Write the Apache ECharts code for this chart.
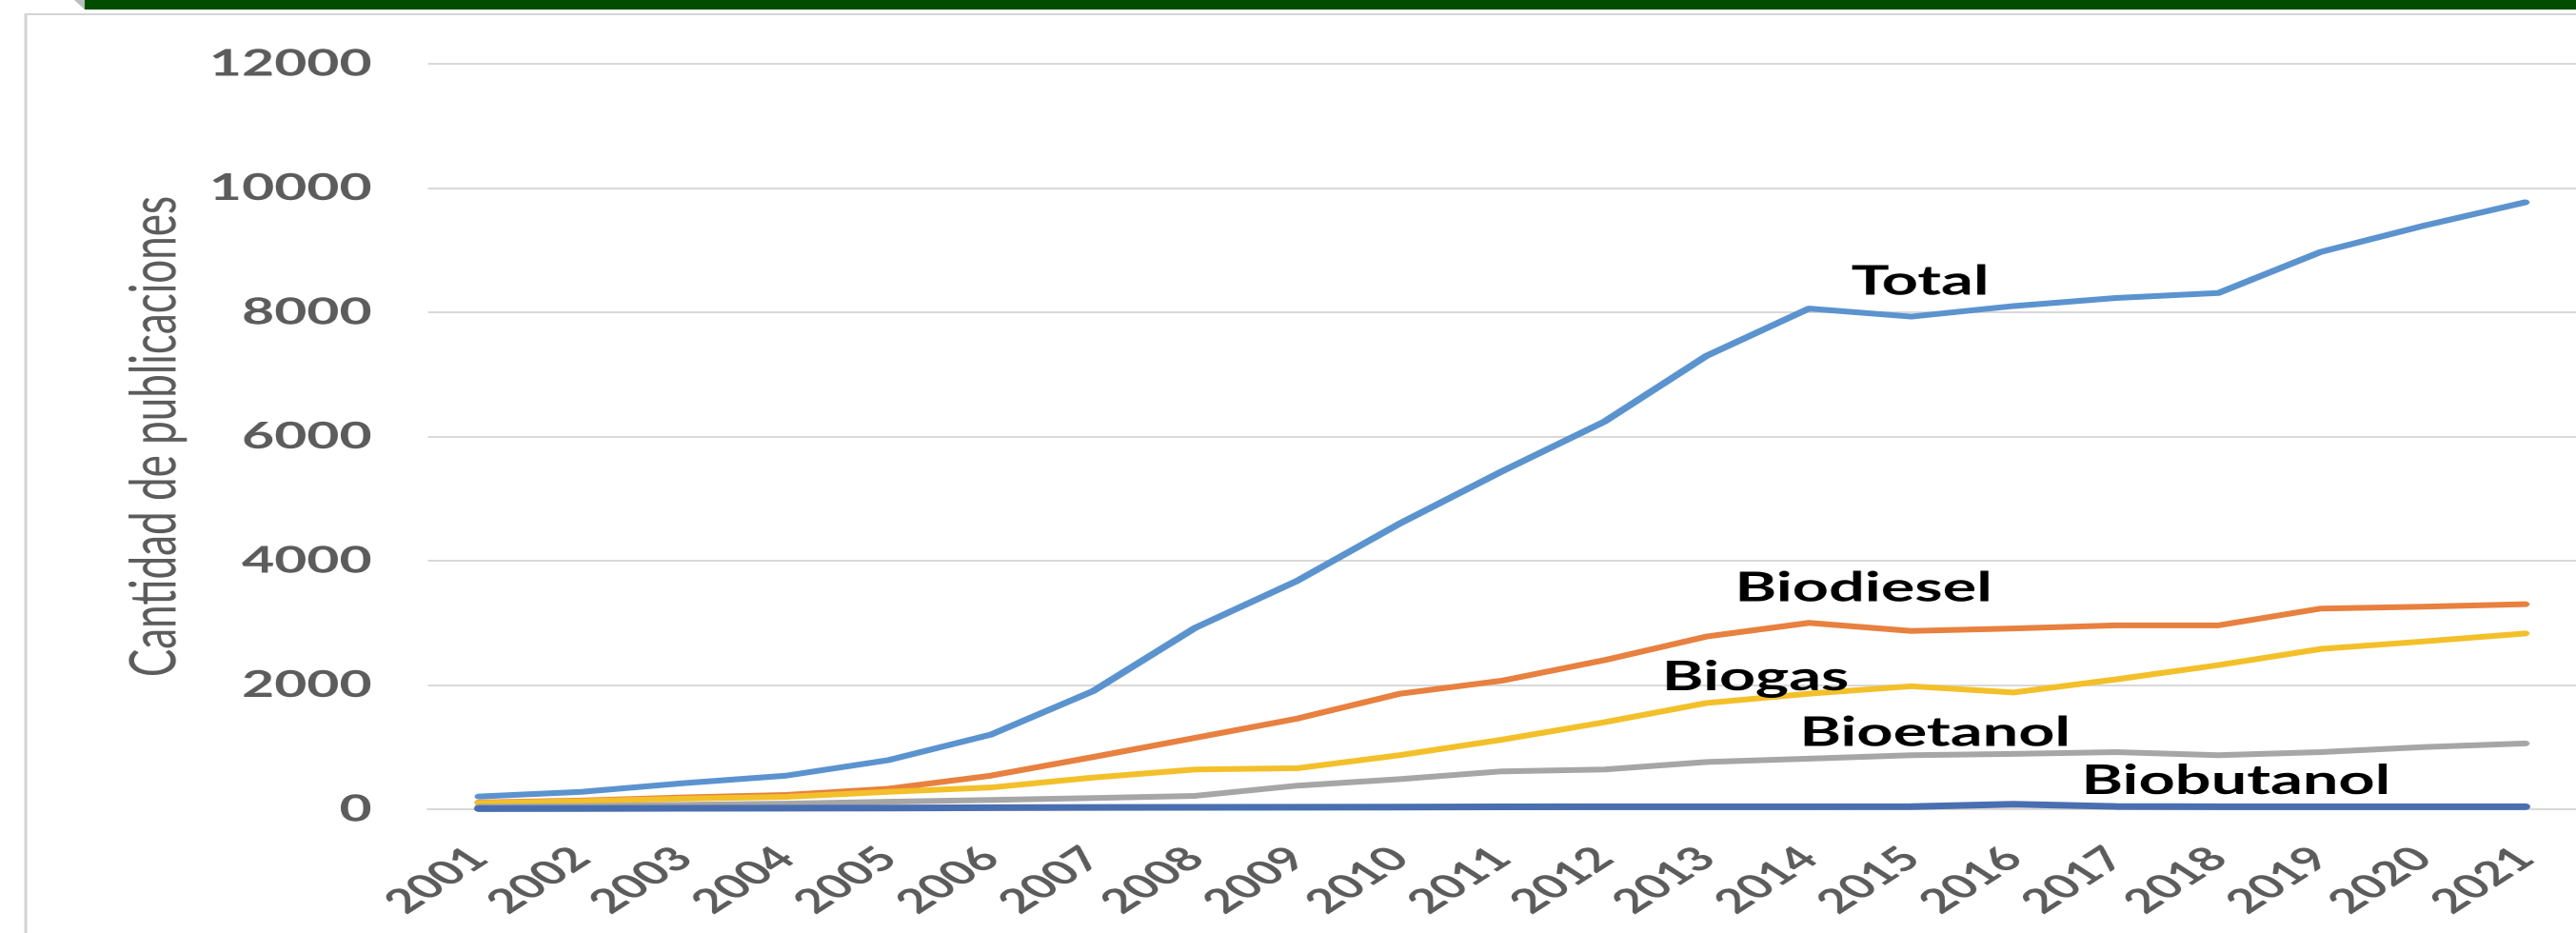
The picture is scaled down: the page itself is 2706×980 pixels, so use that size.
<!DOCTYPE html>
<html>
<head>
<meta charset="utf-8">
<title>Cantidad de publicaciones por año</title>
<script src="https://cdn.jsdelivr.net/npm/echarts@6/dist/echarts.min.js"></script>
<style>
  html, body { margin: 0; padding: 0; background: #ffffff; }
  #frame { width: 2706px; height: 980px; overflow: hidden; position: relative; background: #ffffff; }
  /* The chart is laid out on a narrower canvas and widened horizontally,
     which gives the text and lines their broad, stretched appearance. */
  #chart { position: absolute; left: 0; top: 0; width: 1746px; height: 980px;
           transform: scaleX(1.55); transform-origin: 0 0; }
</style>
</head>
<body>
<div id="frame"><div id="chart"></div></div>
<script>
// ---- data -------------------------------------------------------------
const years = ['2001','2002','2003','2004','2005','2006','2007','2008','2009','2010','2011',
               '2012','2013','2014','2015','2016','2017','2018','2019','2020','2021'];

const total      = [205, 280, 420, 540, 790, 1200, 1900, 2920, 3680, 4600, 5440,
                    6240, 7300, 8060, 7930, 8100, 8230, 8310, 8970, 9390, 9770];
const biodiesel  = [110, 140, 190, 230, 330, 540, 840, 1150, 1460, 1860, 2070,
                    2400, 2780, 3000, 2870, 2910, 2960, 2960, 3230, 3260, 3300];
const biogas     = [100, 130, 170, 200, 280, 350, 510, 640, 660, 870, 1120,
                    1400, 1710, 1860, 1980, 1880, 2090, 2320, 2580, 2700, 2830];
const bioetanol  = [40, 50, 70, 90, 120, 150, 180, 215, 380, 485, 610,
                    640, 760, 815, 870, 890, 920, 870, 920, 1000, 1060];
const biobutanol = [10, 12, 15, 18, 20, 25, 28, 30, 32, 35, 38,
                    40, 40, 40, 42, 80, 45, 40, 40, 40, 40];

const yTicks = [0, 2000, 4000, 6000, 8000, 10000, 12000];
const yAxisTitle = 'Cantidad de publicaciones';

// ---- styling ----------------------------------------------------------
const FONT = 'Lato, "Noto Sans", sans-serif';
const GREY_TEXT = '#5c5c5c';
const GRID_LINE = '#d9d9d9';

// where each series name is written, in axis coordinates, plus a small pixel nudge
const nameTags = {
  'Total':      { at: ['2015', 8500], nudge: [6, 0] },
  'Biodiesel':  { at: ['2014', 3560], nudge: [37, 0] },
  'Biogas':     { at: ['2013', 2130], nudge: [33, 0] },
  'Bioetanol':  { at: ['2015', 1230], nudge: [16, 0] },
  'Biobutanol': { at: ['2018', 460],  nudge: [12, 0] }
};

function lineSeries(name, values, color, width, z) {
  const tag = nameTags[name];
  return {
    name: name,
    type: 'line',
    data: values,
    z: z,
    showSymbol: false,
    symbol: 'none',
    smooth: false,
    lineStyle: { color: color, width: width, cap: 'round', join: 'round' },
    itemStyle: { color: color },
    markPoint: {
      silent: true,
      symbol: 'circle',
      symbolSize: 0,
      itemStyle: { color: 'rgba(0,0,0,0)' },
      label: {
        show: true,
        position: 'inside',
        formatter: '{b}',
        offset: tag.nudge,
        color: '#000000',
        fontFamily: FONT,
        fontWeight: 'bold',
        fontSize: 43
      },
      data: [{ name: name, coord: tag.at }]
    }
  };
}

const chart = echarts.init(document.getElementById('chart'), null, {
  renderer: 'canvas', devicePixelRatio: 2
});

chart.setOption({
  animation: false,
  backgroundColor: '#ffffff',
  grid: { left: 290, top: 67, width: 1459, bottom: 130, containLabel: false },
  xAxis: {
    type: 'category',
    data: years,
    boundaryGap: true,
    axisLine: { show: true, lineStyle: { color: GRID_LINE, width: 2 } },
    axisTick: { show: false },
    axisLabel: {
      rotate: 45,
      margin: 46,
      color: GREY_TEXT,
      fontFamily: FONT,
      fontWeight: 'bold',
      fontSize: 35,
      interval: 0
    },
    splitLine: { show: false }
  },
  yAxis: {
    type: 'value',
    min: yTicks[0],
    max: yTicks[yTicks.length - 1],
    interval: yTicks[1] - yTicks[0],
    name: yAxisTitle,
    nameLocation: 'middle',
    nameRotate: 90,
    nameGap: 163,
    nameTextStyle: { color: GREY_TEXT, fontFamily: FONT, fontSize: 44 },
    axisLine: { show: false },
    axisTick: { show: false },
    axisLabel: {
      margin: 38,
      color: GREY_TEXT,
      fontFamily: FONT,
      fontWeight: 'bold',
      fontSize: 38,
      formatter: function (v) { return String(v); }
    },
    splitLine: { show: true, lineStyle: { color: GRID_LINE, width: 2 } }
  },
  graphic: [
    // panel outline
    { type: 'rect', shape: { x: 17.4, y: 15, width: 1800, height: 1000 },
      style: { fill: 'none', stroke: '#d4d4d4', lineWidth: 2 }, z: 0, silent: true },
    // header band
    { type: 'polygon', shape: { points: [[50.3, 0], [57.4, 0], [57.4, 10]] },
      style: { fill: '#bdbdbd' }, z: 0, silent: true },
    { type: 'rect', shape: { x: 57.4, y: 0, width: 1700, height: 10 },
      style: { fill: '#004d00' }, z: 0, silent: true }
  ],
  series: [
    lineSeries('Total',      total,      '#5b93cf', 6, 2),
    lineSeries('Biodiesel',  biodiesel,  '#e8803f', 6, 3),
    lineSeries('Biogas',     biogas,     '#f3c02a', 6, 4),
    lineSeries('Bioetanol',  bioetanol,  '#a6a6a6', 6, 5),
    lineSeries('Biobutanol', biobutanol, '#4a6fb0', 7, 6)
  ]
});
</script>
</body>
</html>
